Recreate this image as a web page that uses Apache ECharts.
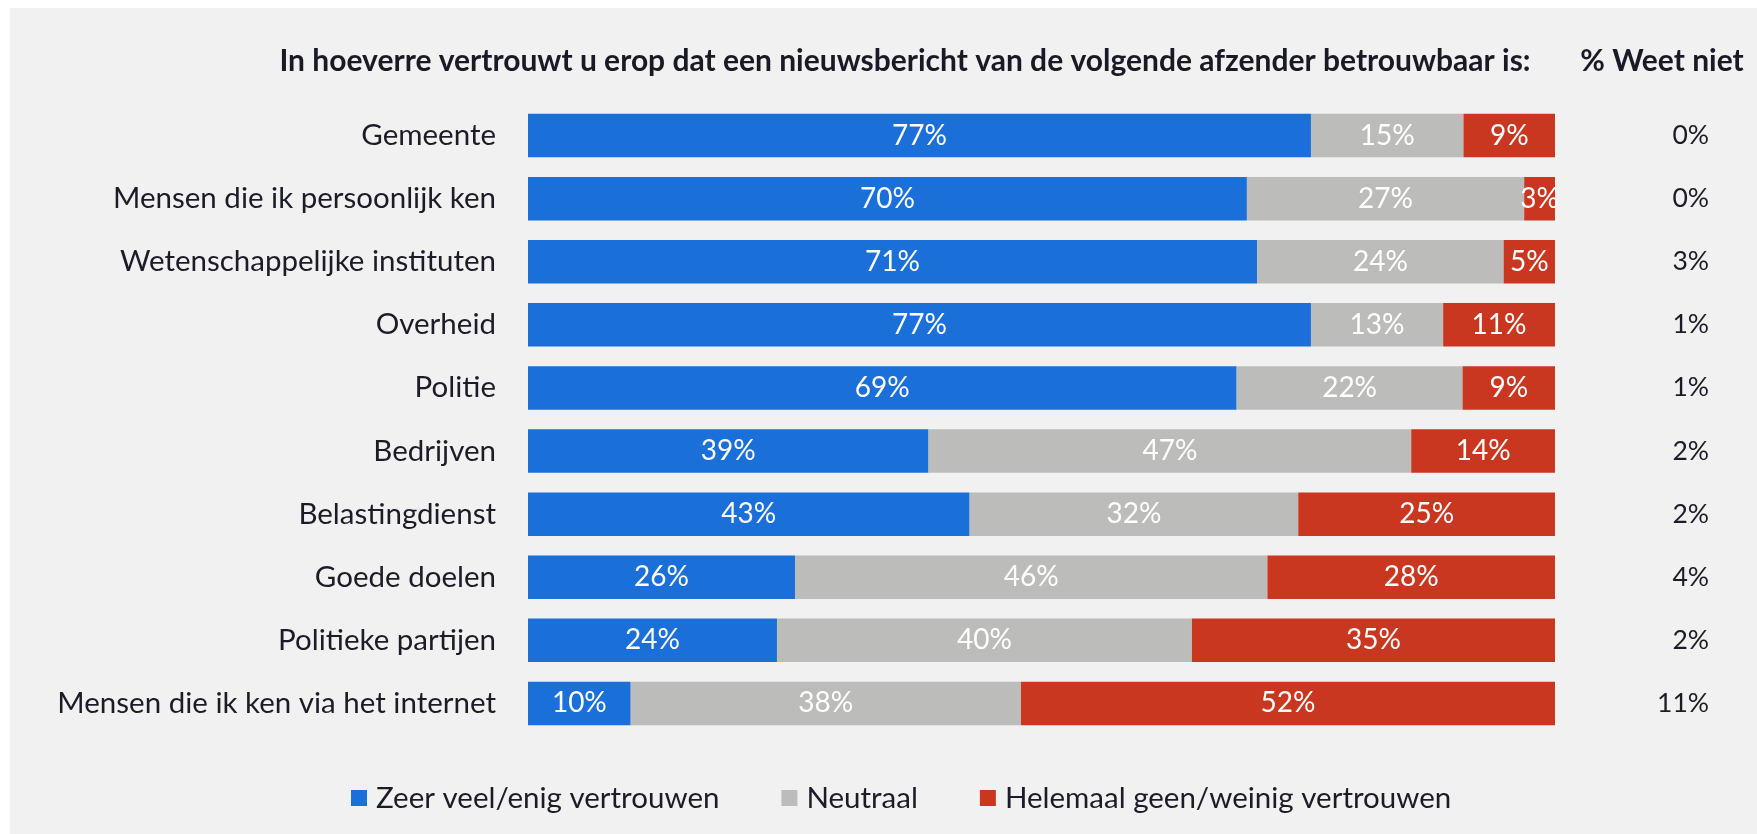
<!DOCTYPE html>
<html><head><meta charset="utf-8">
<script src="https://cdn.jsdelivr.net/npm/echarts@6/dist/echarts.min.js"></script>
<style>
html,body{margin:0;padding:0;background:#ffffff;}
#wrap{position:relative;width:1757px;height:834px;overflow:hidden;}
#bg{position:absolute;left:10px;top:8px;right:0;bottom:0;background:#f1f1f1;}
#c{position:absolute;left:0;top:0;width:1757px;height:834px;}
</style>
</head><body>
<div id="wrap"><div id="bg"></div><div id="c"></div></div>
<script>
const categories = ['Gemeente','Mensen die ik persoonlijk ken','Wetenschappelijke instituten','Overheid','Politie','Bedrijven','Belastingdienst','Goede doelen','Politieke partijen','Mensen die ik ken via het internet'];
const trustHigh = [77,70,71,77,69,39,43,26,24,10];
const neutral   = [15,27,24,13,22,47,32,46,40,38];
const trustLow  = [9,3,5,11,9,14,25,28,35,52];
const dontKnow  = ['0%','0%','3%','1%','1%','2%','2%','4%','2%','11%'];
const seriesNames = ['Zeer veel/enig vertrouwen','Neutraal','Helemaal geen/weinig vertrouwen'];
const colors = ['#1a70d8','#bcbcba','#c93720'];
const titleText = 'In hoeverre vertrouwt u erop dat een nieuwsbericht van de volgende afzender betrouwbaar is:';
const sideTitle = '% Weet niet';

const FONT = 'Lato, "Open Sans", sans-serif';
const raw = [trustHigh, neutral, trustLow];
const totals = categories.map((_, i) => trustHigh[i] + neutral[i] + trustLow[i]);

const chart = echarts.init(document.getElementById('c'));
const series = raw.map((arr, s) => ({
  name: seriesNames[s],
  type: 'bar',
  stack: 'total',
  barCategoryGap: '31%',
  itemStyle: { color: colors[s] },
  label: {
    show: true,
    position: 'inside',
    color: '#ffffff',
    fontFamily: FONT,
    fontSize: 28,
    formatter: p => arr[p.dataIndex] + '%'
  },
  data: arr.map((v, i) => v / totals[i] * 100)
}));

chart.setOption({
  animation: false,
  textStyle: { fontFamily: FONT },
  grid: { left: 528, right: 202, top: 104, bottom: 99, containLabel: false },
  xAxis: { type: 'value', min: 0, max: 100, show: false },
  yAxis: [
    {
      type: 'category', data: categories, inverse: true,
      axisLine: { show: false }, axisTick: { show: false },
      axisLabel: { color: '#1c1c28', fontSize: 29.5, fontFamily: FONT, margin: 32 }
    },
    {
      type: 'category', data: dontKnow, inverse: true, position: 'right',
      axisLine: { show: false }, axisTick: { show: false },
      axisLabel: { color: '#1c1c28', fontSize: 26.5, fontFamily: FONT, margin: 154, align: 'right' }
    }
  ],
  legend: {
    data: seriesNames, left: 346, top: 778,
    icon: 'rect', itemWidth: 16, itemHeight: 16, itemGap: 62,
    textStyle: { color: '#1c1c28', fontSize: 29.5, fontFamily: FONT, padding: [0, 0, 0, 4] }
  },
  graphic: [
    { type: 'text', x: 905, y: 61, style: { text: titleText, fill: '#1a1a26', fontFamily: FONT, fontWeight: 'bold', fontSize: 30, align: 'center', verticalAlign: 'middle' } },
    { type: 'text', x: 1662, y: 61, style: { text: sideTitle, fill: '#1a1a26', fontFamily: FONT, fontWeight: 'bold', fontSize: 30, align: 'center', verticalAlign: 'middle' } }
  ],
  series: series
});
</script>
</body></html>
